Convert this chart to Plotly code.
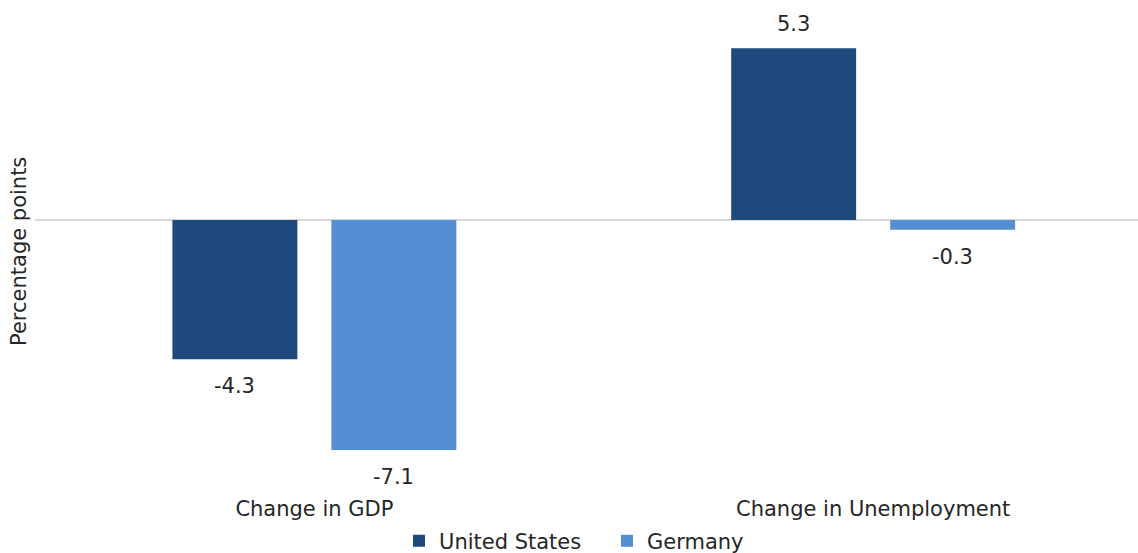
import plotly.graph_objects as go

categories = ["Change in GDP", "Change in Unemployment"]
us_values = [-4.3, 5.3]
germany_values = [-7.1, -0.3]
series_names = ["United States", "Germany"]
colors = ["#1F497D", "#558ED5"]

FONT = "DejaVu Sans"
TXT = "#262626"
W, H = 1138, 553
top_px, bot_px, zero_px, ppu = 10, 491, 220, 32.4
y_top = (zero_px - top_px) / ppu
y_bot = -(bot_px - zero_px) / ppu

fig = go.Figure()
for name, vals, col in zip(series_names, [us_values, germany_values], colors):
    fig.add_trace(go.Bar(x=categories, y=vals, name=name,
                         marker=dict(color=col, line=dict(width=0))))

# value labels placed a bit further from bar ends, as in the reference
annotations = []
offsets = [-79.5, 79.5]
for vals, dx in zip([us_values, germany_values], offsets):
    for cat, v in zip(categories, vals):
        annotations.append(dict(x=cat, y=v, xref="x", yref="y", text=f"{v:.1f}",
                                showarrow=False, xshift=dx, yshift=(24 if v >= 0 else -27),
                                xanchor="center", yanchor="middle",
                                font=dict(family=FONT, size=21, color=TXT)))

title_y = (bot_px - 252) / (bot_px - top_px)
annotations.append(dict(text="Percentage points", textangle=-90, xref="paper", yref="paper",
                        x=(19 - 35) / (W - 35), y=title_y, xanchor="center", yanchor="middle",
                        showarrow=False, font=dict(family=FONT, size=21, color=TXT)))

fig.update_layout(
    width=W, height=H,
    margin=dict(l=35, r=0, t=top_px, b=H - bot_px, autoexpand=False),
    paper_bgcolor="white", plot_bgcolor="white",
    barmode="group", bargap=0.431, bargroupgap=0.214,
    font=dict(family=FONT, size=21, color=TXT),
    xaxis=dict(range=[-0.5, 1.474], showgrid=False, showline=False, ticks="",
               ticklabelstandoff=3,
               tickfont=dict(family=FONT, size=21, color=TXT)),
    yaxis=dict(range=[y_bot, y_top], showgrid=False, showticklabels=False, ticks="",
               zeroline=True, zerolinecolor="#D9D9D9", zerolinewidth=1.5),
    legend=dict(orientation="h", xref="container", x=0.5334, xanchor="center",
                yref="container", y=1 - 541 / H, yanchor="middle",
                font=dict(family=FONT, size=21, color=TXT),
                itemwidth=30, traceorder="normal",
                entrywidth=163, entrywidthmode="pixels"),
    annotations=annotations,
)

fig.write_html("out.html")
